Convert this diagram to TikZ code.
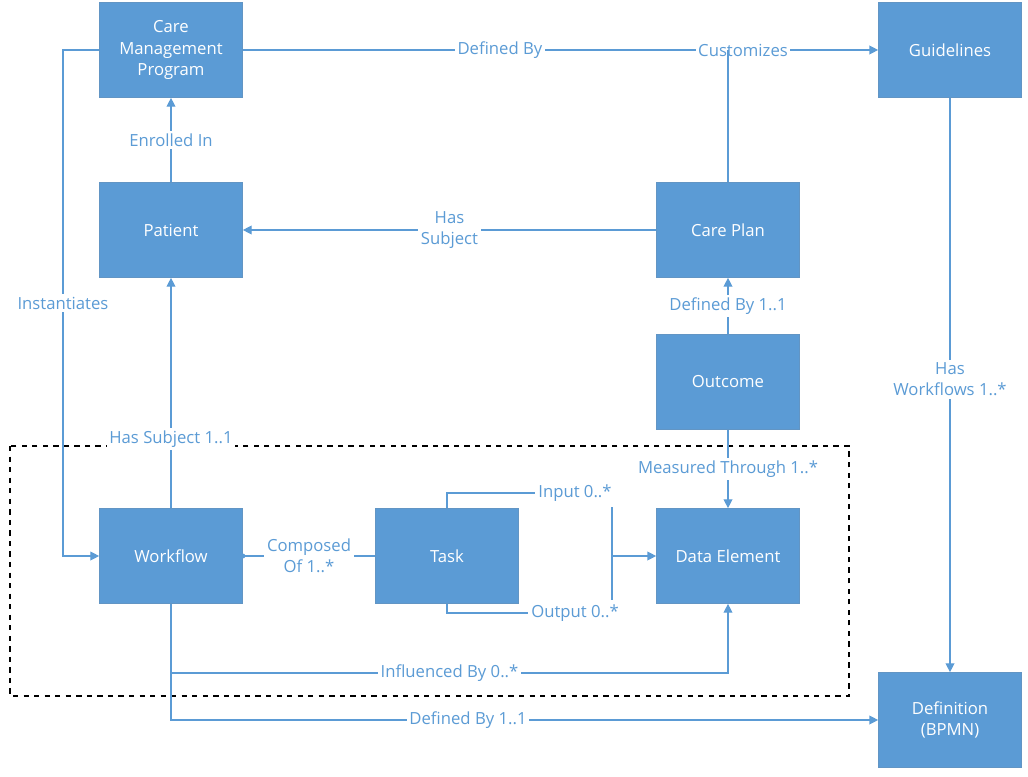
\documentclass[tikz,border=0pt]{standalone}
\usepackage{fontspec}
\setmainfont{Open Sans}
\usetikzlibrary{arrows.meta}
\definecolor{bx}{HTML}{5B9BD5}
\definecolor{ln}{HTML}{5B9BD5}
\begin{document}
\begin{tikzpicture}[x=0.02cm,y=-0.02cm,
  box/.style={fill=bx,draw=bx!80!gray,minimum width=2.86cm,minimum height=1.9cm,text=white,align=center,font=\fontsize{9.5}{12}\selectfont},
  lab/.style={fill=white,text=ln,align=center,inner sep=1.5pt,font=\fontsize{9.5}{12}\selectfont},
  c/.style={draw=ln,line width=0.7pt},
  a/.style={c,-{Triangle[length=5pt,width=5pt]}}]
\useasboundingbox (0,0) rectangle (1028,777);
\node[box] (cmp) at (171,50) {Care\\Management\\Program};
\node[box] (gl) at (950,50) {Guidelines};
\node[box] (pt) at (171,230) {Patient};
\node[box] (cp) at (728,230) {Care Plan};
\node[box] (oc) at (728,382) {Outcome};
\node[box] (wf) at (171,556) {Workflow};
\node[box] (tk) at (447,556) {Task};
\node[box] (de) at (728,556) {Data Element};
\node[box] (df) at (950,720) {Definition\\(BPMN)};
\draw[dashed,line width=0.6pt] (10,446) rectangle (849,696);
\coordinate (j1) at (728,50);
\draw[a] (cmp) -- node[lab,pos=0.53]{Defined By} (j1) -- node[lab,pos=0.1]{Customizes} (gl);
\draw[c] (cp) -- (j1);
\draw[a] (cmp.west) -- (63,50) -- node[lab,pos=0.5]{Instantiates} (63,556) -- (wf.west);
\draw[a] (pt) -- node[lab]{Enrolled In} (cmp);
\draw[a] (cp) -- node[lab]{Has\\Subject} (pt);
\draw[a] (oc) -- node[lab]{Defined By 1..1} (cp);
\draw[a] (oc) -- node[lab,pos=0.5]{Measured Through 1..*} (de);
\draw[a] (wf) -- node[lab,pos=0.3]{Has Subject 1..1} (pt);
\draw[c] (wf.east) -- node[lab]{Composed\\Of 1..*} (tk.west);
\fill[ln] (wf.east) circle (2.5);
\node[lab] (in) at (575,493) {Input 0..*};
\node[lab] (out) at (575,613) {Output 0..*};
\draw[c] (tk.north) |- (in.west);
\draw[c] (tk.south) |- (out.west);
\coordinate (v1) at (612,507); \coordinate (v2) at (612,600);
\draw[c] (v1) -- (v2);
\draw[a] (612,556) -- (de.west);
\draw[a] (wf.south) -- (171,673) -- node[lab,pos=0.5]{Influenced By 0..*} (728,673) -- (de.south);
\draw[a] (wf.south) -- (171,720) -- node[lab,pos=0.42]{Defined By 1..1} (df.west);
\draw[a] (gl) -- node[lab,pos=0.49]{Has\\Workflows 1..*} (df);
\end{tikzpicture}
\end{document}
